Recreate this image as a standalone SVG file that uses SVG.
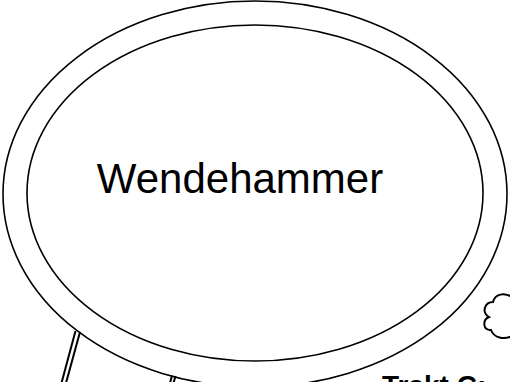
<svg xmlns="http://www.w3.org/2000/svg" width="510" height="382" viewBox="0 0 510 382">
<style>
.ln{fill:none;stroke:#000;stroke-width:1.6}
.road{fill:none;stroke:#000;stroke-width:2}
.sh{fill:#fff;stroke:#000;stroke-width:2}
.lbl{font-family:"Liberation Sans",Arial,sans-serif;fill:#000}
</style>
<rect width="510" height="382" fill="#fff"/>
<g id="connectors">
<path class="road" d="M75.5 331 L61.5 383"/>
<path class="road" d="M80 332 L66 383"/>
<path class="road" d="M172 375.5 L170 383"/>
<path class="road" d="M175.5 376 L173.5 383"/>
</g>
<g id="wendehammer">
<ellipse class="ln" cx="255" cy="194" rx="252" ry="193"/>
<ellipse class="ln" cx="255" cy="193" rx="228" ry="168"/>
<text class="lbl" x="240" y="193" font-size="42" text-anchor="middle">Wendehammer</text>
</g>
<g id="cloud">
<path class="sh" d="M512 297 C504 292 495 294 493 302 C485 302 481 312 489 317 C482 320 483 331 491 330 C494 338 504 340 512 336"/>
</g>
<g id="trakt-c">
<text class="lbl" x="382" y="395" font-size="28" font-weight="bold">Trakt C:</text>
</g>
</svg>
